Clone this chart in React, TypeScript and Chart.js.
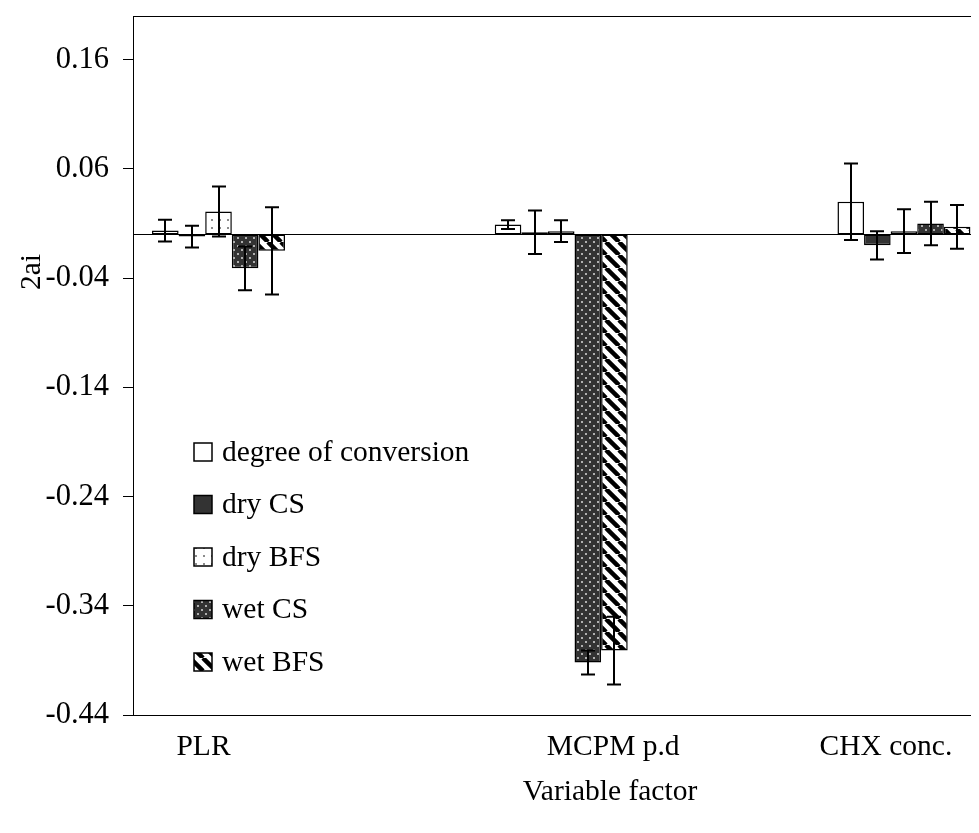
import React, { useEffect, useRef } from "react";
import { Chart, registerables } from "chart.js";

Chart.register(...registerables);

// ---- data ----
const categories = ["PLR", "MCPM p.d", "CHX conc."];
const seriesNames = ["degree of conversion", "dry CS", "dry BFS", "wet CS", "wet BFS"];
const degreeOfConversion = [0.0035, 0.009, 0.03];
const dryCS = [-0.002, 0.002, -0.01];
const dryBFS = [0.021, 0.003, 0.003];
const wetCS = [-0.031, -0.392, 0.01];
const wetBFS = [-0.015, -0.381, 0.007];
const degreeErr = [0.01, 0.004, 0.035];
const dryCSErr = [0.01, 0.02, 0.013];
const dryBFSErr = [0.023, 0.01, 0.02];
const wetCSErr = [0.02, 0.011, 0.02];
const wetBFSErr = [0.04, 0.031, 0.02];
const yTicks = [-0.44, -0.34, -0.24, -0.14, -0.04, 0.06, 0.16];
const yTitle = "2ai";
const xTitle = "Variable factor";

// ---- layout / style constants ----
const FONT = "Liberation Serif, Times New Roman, serif";
const LABEL_DX = [-15, 52, -18];

function makePattern(kind: string): CanvasPattern | string {
  const c = document.createElement("canvas");
  const ctx = c.getContext("2d")!;
  if (kind === "dotsLight") {
    c.width = 8; c.height = 8;
    ctx.fillStyle = "#fff"; ctx.fillRect(0, 0, 8, 8);
    ctx.fillStyle = "#8c8c8c"; ctx.fillRect(3, 3, 2, 2);
  } else if (kind === "dotsDark") {
    c.width = 8; c.height = 8;
    ctx.fillStyle = "#333"; ctx.fillRect(0, 0, 8, 8);
    ctx.fillStyle = "#b0b0b0";
    ctx.fillRect(1, 1, 2, 2);
    ctx.fillRect(5, 5, 2, 2);
  } else {
    const s = 13;
    c.width = s; c.height = s;
    ctx.fillStyle = "#fff"; ctx.fillRect(0, 0, s, s);
    ctx.strokeStyle = "#000"; ctx.lineWidth = 4.5;
    for (const x0 of [-s, 0, s]) {
      ctx.beginPath(); ctx.moveTo(x0, 0); ctx.lineTo(x0 + s, s); ctx.stroke();
    }
  }
  return ctx.createPattern(c, "repeat")!;
}

export default function App() {
  const ref = useRef<HTMLCanvasElement>(null);
  useEffect(() => {
    const canvas = ref.current!;
    const values = [degreeOfConversion, dryCS, dryBFS, wetCS, wetBFS];
    const errs = [degreeErr, dryCSErr, dryBFSErr, wetCSErr, wetBFSErr];
    const fills = ["#ffffff", "#333333", makePattern("dotsLight"), makePattern("dotsDark"), makePattern("stripes")];

    const datasets = seriesNames.map((name, i) => ({
      label: name,
      data: values[i].map((v, j) => ({ x: j, y: v })),
      backgroundColor: fills[i] as any,
      borderColor: "#000",
      borderWidth: 1.5,
      borderSkipped: false as any,
      categoryPercentage: 0.388,
      barPercentage: 1,
    }));

    const framePlugin = {
      id: "frame",
      beforeDatasetsDraw(chart: any) {
        const { ctx, chartArea: a, scales } = chart;
        const y0 = Math.round(scales.y.getPixelForValue(0)) + 0.5;
        ctx.save();
        ctx.strokeStyle = "#000";
        ctx.lineWidth = 1;
        ctx.beginPath();
        ctx.moveTo(a.left, y0); ctx.lineTo(a.right, y0);
        ctx.moveTo(a.left, Math.round(a.top) + 0.5); ctx.lineTo(a.right, Math.round(a.top) + 0.5);
        ctx.moveTo(a.left, Math.round(a.bottom) + 0.5); ctx.lineTo(a.right, Math.round(a.bottom) + 0.5);
        ctx.stroke();
        ctx.restore();
      },
    };

    const errorPlugin = {
      id: "errbars",
      afterDatasetsDraw(chart: any) {
        const { ctx, scales } = chart;
        ctx.save();
        ctx.strokeStyle = "#000";
        ctx.lineWidth = 2;
        chart.data.datasets.forEach((_: any, i: number) => {
          const meta = chart.getDatasetMeta(i);
          meta.data.forEach((el: any, j: number) => {
            const v = values[i][j];
            const e = errs[i][j];
            const x = Math.round(el.x);
            const yt = scales.y.getPixelForValue(v + e);
            const yb = scales.y.getPixelForValue(v - e);
            ctx.beginPath();
            ctx.moveTo(x, yt); ctx.lineTo(x, yb);
            ctx.moveTo(x - 7, yt); ctx.lineTo(x + 7, yt);
            ctx.moveTo(x - 7, yb); ctx.lineTo(x + 7, yb);
            ctx.stroke();
          });
        });
        ctx.restore();
      },
    };

    const textPlugin = {
      id: "texts",
      afterDraw(chart: any) {
        const { ctx, scales } = chart;
        ctx.save();
        ctx.fillStyle = "#000";
        ctx.font = `29.5px ${FONT}`;
        ctx.textAlign = "center";
        ctx.textBaseline = "alphabetic";
        categories.forEach((c, j) => {
          ctx.fillText(c, scales.x.getPixelForValue(j) + LABEL_DX[j], 747);
        });
        ctx.fillText(xTitle, 602, 792);
        ctx.save();
        ctx.translate(24, 264);
        ctx.rotate(-Math.PI / 2);
        ctx.textBaseline = "middle";
        ctx.fillText(yTitle, 0, 0);
        ctx.restore();
        ctx.textAlign = "left";
        ctx.textBaseline = "middle";
        chart.data.datasets.forEach((ds: any, i: number) => {
          const cy = 444 + i * 52.5;
          ctx.fillStyle = ds.backgroundColor;
          ctx.fillRect(186, cy - 9, 18, 18);
          ctx.strokeStyle = "#000";
          ctx.lineWidth = 1.5;
          ctx.strokeRect(186, cy - 9, 18, 18);
          ctx.fillStyle = "#000";
          ctx.font = `29.5px ${FONT}`;
          ctx.fillText(ds.label, 214, cy + 1);
        });
        ctx.restore();
      },
    };

    const chart = new Chart(canvas, {
      type: "bar",
      data: { datasets: datasets as any },
      options: {
        animation: false,
        responsive: false,
        layout: { padding: { top: 8, bottom: 110, left: 0, right: 0 } },
        plugins: { legend: { display: false }, tooltip: { enabled: false } },
        scales: {
          x: {
            type: "linear",
            min: -0.2495,
            max: 2.219,
            display: false,
            offset: false,
            afterBuildTicks: (s: any) => { s.ticks = categories.map((_, j) => ({ value: j })); },
          },
          y: {
            min: -0.44,
            max: 0.2,
            afterBuildTicks: (s: any) => { s.ticks = yTicks.map((v) => ({ value: v })); },
            afterFit: (s: any) => { s.width = 125; s.paddingTop = 0; s.paddingBottom = 0; },
            border: { display: true, color: "#000", width: 1 },
            grid: { drawOnChartArea: false, drawTicks: true, tickLength: 10, color: "#000", tickColor: "#000", tickWidth: 1 },
            ticks: {
              font: { family: FONT, size: 30.5 },
              color: "#000",
              padding: 14,
              callback: (v: any) => Number(v).toFixed(2),
            },
          },
        },
      } as any,
      plugins: [framePlugin, errorPlugin, textPlugin],
    });
    return () => chart.destroy();
  }, []);

  return (
    <div style={{ width: 971, height: 817 }}>
      <canvas ref={ref} width={971} height={817} style={{ display: "block" }} />
    </div>
  );
}
